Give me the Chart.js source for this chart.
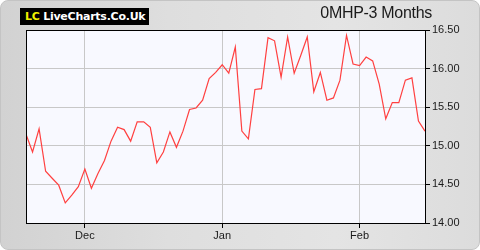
<!DOCTYPE html>
<html>
<head>
<meta charset="utf-8">
<script src="https://cdn.jsdelivr.net/npm/chart.js@4.4.1/dist/chart.umd.min.js"></script>
<style>
  html, body { margin: 0; padding: 0; background: #ffffff; overflow: hidden; }
  #frame {
    position: relative; width: 480px; height: 250px; box-sizing: border-box;
    border: 1px solid #c4c4c4; border-radius: 8px;
    background: linear-gradient(to right, #d2d2d2 0%, #dedede 35%, #e4e4e4 70%, #dcdcdc 100%);
    overflow: hidden;
  }
  #chart { position: absolute; left: -1px; top: -1px; }
  #logo {
    position: absolute; left: 19px; top: 7px; width: 129px; height: 17px;
    background: #000; color: #fff; font-family: "DejaVu Sans", sans-serif;
    font-weight: bold; font-size: 11px; line-height: 17px; white-space: nowrap;
    padding-left: 5px; box-sizing: border-box; letter-spacing: -0.25px;
  }
  #logo span { color: #f0f000; }
  #title {
    position: absolute; right: 47px; top: 3px; font-family: "Liberation Sans", Arial, sans-serif;
    font-size: 16px; color: #1a1a1a; white-space: nowrap; letter-spacing: -0.3px;
  }
</style>
</head>
<body>
<div id="frame">
  <canvas id="chart" width="480" height="250"></canvas>
  <div id="logo"><span>LC</span> LiveCharts.Co.Uk</div>
  <div id="title">0MHP-3 Months</div>
</div>
<script>
// Closing prices, one per trading day
const values = [
  15.15, 14.92, 15.22, 14.67, 14.58, 14.49, 14.26, 14.36, 14.47, 14.70,
  14.45, 14.64, 14.81, 15.06, 15.24, 15.21, 15.06, 15.31, 15.31, 15.24,
  14.78, 14.92, 15.18, 14.98, 15.19, 15.47, 15.49, 15.59, 15.87, 15.95,
  16.05, 15.94, 16.28, 15.19, 15.09, 15.73, 15.74, 16.40, 16.36, 15.89,
  16.41, 15.94, 16.17, 16.41, 15.70, 15.95, 15.59, 15.62, 15.85, 16.43,
  16.06, 16.04, 16.15, 16.10, 15.80, 15.35, 15.56, 15.56, 15.85, 15.88,
  15.32, 15.19
];
// Month tick labels and the trading-day index where each month starts
const tickLabels = ['Dec', 'Jan', 'Feb'];
const tickIndex = [9, 30, 51];
// Price axis tick values
const yTicks = [14.00, 14.50, 15.00, 15.50, 16.00, 16.50];

const points = values.map((v, i) => ({ x: i, y: v }));

const framePlugin = {
  id: 'framePlugin',
  beforeDraw(chart) {
    const { ctx, chartArea: a } = chart;
    ctx.save();
    ctx.fillStyle = '#f8f9ff';
    ctx.fillRect(a.left, a.top, a.right - a.left, a.bottom - a.top);
    ctx.restore();
  },
  afterDraw(chart) {
    const { ctx, chartArea: a } = chart;
    ctx.save();
    ctx.strokeStyle = '#000';
    ctx.lineWidth = 1;
    ctx.strokeRect(Math.round(a.left) + 0.5, Math.round(a.top) + 0.5,
      Math.round(a.right - a.left), Math.round(a.bottom - a.top));
    ctx.restore();
  }
};

new Chart(document.getElementById('chart'), {
  type: 'line',
  data: {
    datasets: [{
      data: points,
      borderColor: '#ff4040',
      borderWidth: 1.2,
      pointRadius: 0,
      tension: 0,
      fill: false
    }]
  },
  options: {
    responsive: false,
    animation: false,
    devicePixelRatio: 1,
    layout: { padding: { left: 26, top: 30, right: 0, bottom: 0 } },
    plugins: { legend: { display: false }, tooltip: { enabled: false } },
    scales: {
      x: {
        type: 'linear',
        min: 0,
        max: values.length - 1,
        afterBuildTicks(scale) { scale.ticks = tickIndex.map(v => ({ value: v })); },
        afterFit(scale) { scale.height = 27; },
        grid: { color: '#c8c8c8', tickColor: '#000', tickLength: 5, drawOnChartArea: true },
        border: { color: '#000', width: 1 },
        ticks: {
          autoSkip: false, maxRotation: 0, padding: 1,
          color: '#1a1a1a', font: { family: 'Liberation Sans', size: 11 },
          callback: (v) => { const k = tickIndex.indexOf(v); return k >= 0 ? tickLabels[k] : ''; }
        }
      },
      y: {
        position: 'right',
        min: yTicks[0],
        max: yTicks[yTicks.length - 1],
        afterBuildTicks(scale) { scale.ticks = yTicks.map(v => ({ value: v })); },
        afterFit(scale) { scale.width = 55; },
        grid: { color: '#c8c8c8', tickColor: '#000', tickLength: 5 },
        border: { color: '#000', width: 1 },
        ticks: {
          padding: 2, color: '#1a1a1a', font: { family: 'Liberation Sans', size: 11 },
          callback: (v) => Number(v).toFixed(2)
        }
      }
    }
  },
  plugins: [framePlugin]
});
</script>
</body>
</html>
